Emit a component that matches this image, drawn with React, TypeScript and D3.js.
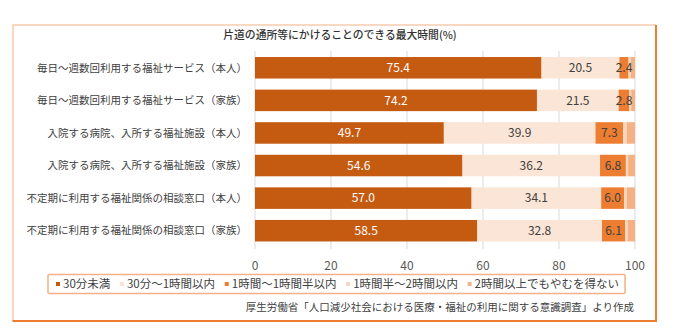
import React, { useEffect, useRef } from "react";
import * as d3 from "d3";

const categories = [
  "毎日～週数回利用する福祉サービス（本人）",
  "毎日～週数回利用する福祉サービス（家族）",
  "入院する病院、入所する福祉施設（本人）",
  "入院する病院、入所する福祉施設（家族）",
  "不定期に利用する福祉関係の相談窓口（本人）",
  "不定期に利用する福祉関係の相談窓口（家族）",
];
const seriesNames = [
  "30分未満",
  "30分～1時間以内",
  "1時間～1時間半以内",
  "1時間半～2時間以内",
  "2時間以上でもやむを得ない",
];
const s1 = [75.4, 74.2, 49.7, 54.6, 57.0, 58.5];
const s2 = [20.5, 21.5, 39.9, 36.2, 34.1, 32.8];
const s3 = [2.4, 2.8, 7.3, 6.8, 6.0, 6.1];
const s4 = [0.6, 0.5, 0.9, 0.6, 0.8, 0.7];
const s5 = [1.1, 1.0, 2.2, 1.8, 2.1, 1.9];
const xTicks = [0, 20, 40, 60, 80, 100];
const title = "片道の通所等にかけることのできる最大時間(%)";
const source = "厚生労働省「人口減少社会における医療・福祉の利用に関する意識調査」より作成";

const colors = ["#c55a11", "#fbe5d6", "#ed7d31", "#f8d5bd", "#f4b183"];
const labelColors = ["#ffffff", "#404040", "#404040"];
const FONT = "'Noto Sans CJK JP', 'Noto Sans', sans-serif";

export default function App() {
  const ref = useRef<SVGSVGElement>(null);
  useEffect(() => {
    const svg = d3.select(ref.current);
    svg.selectAll("*").remove();
    const W = 676, H = 333;
    const series = [s1, s2, s3, s4, s5];
    const x = d3.scaleLinear().domain([0, 100]).range([255, 635]);
    const y = d3.scaleBand().domain(categories).range([51.5, 247]).paddingInner(0.34).paddingOuter(0.17);

    svg.append("rect").attr("width", W).attr("height", H).attr("fill", "#fff");

    // frame
    svg.append("path").attr("d", "M13,321 L13,25 L656,25").attr("fill", "none").attr("stroke", "#f8cbad").attr("stroke-width", 1.5);
    svg.append("path").attr("d", "M12.5,321 L656,321 L656,25").attr("fill", "none").attr("stroke", "#ed7d31").attr("stroke-width", 2);

    // title
    svg.append("text").attr("x", 340).attr("y", 35).attr("dy", "0.36em").attr("text-anchor", "middle")
      .attr("font-family", FONT).attr("font-size", 10.8).attr("font-weight", 500).attr("fill", "#333").text(title);

    // grid
    svg.append("g").selectAll("line").data(xTicks).join("line")
      .attr("x1", (d) => x(d)).attr("x2", (d) => x(d)).attr("y1", 51).attr("y2", 249)
      .attr("stroke", "#e6e6e6").attr("stroke-width", 1.5);

    // stacked bars
    const stacked = categories.map((c, i) => {
      let acc = 0;
      return series.map((s, k) => {
        const v0 = acc;
        acc += s[i];
        return { c, k, v: s[i], v0, v1: acc };
      });
    });
    const g = svg.append("g");
    stacked.forEach((row) => {
      row.forEach((seg) => {
        g.append("rect").attr("x", x(seg.v0)).attr("y", y(seg.c)!)
          .attr("width", x(seg.v1) - x(seg.v0)).attr("height", y.bandwidth())
          .attr("fill", colors[seg.k]);
      });
      row.filter((s) => s.k < 3).forEach((seg) => {
        g.append("text").attr("x", (x(seg.v0) + x(seg.v1)) / 2).attr("y", y(seg.c)! + y.bandwidth() / 2)
          .attr("dy", "0.36em").attr("text-anchor", "middle").attr("font-family", FONT).attr("font-size", 12)
          .attr("fill", labelColors[seg.k]).text(seg.v.toFixed(1));
      });
    });

    // y labels
    svg.append("g").selectAll("text").data(categories).join("text")
      .attr("x", 247).attr("y", (d) => y(d)! + y.bandwidth() / 2).attr("dy", "0.36em")
      .attr("text-anchor", "end").attr("font-family", FONT).attr("font-size", 10.5).attr("fill", "#404040").text((d) => d);

    // x tick labels
    svg.append("g").selectAll("text").data(xTicks).join("text")
      .attr("x", (d) => x(d)).attr("y", 266).attr("dy", "0.36em").attr("text-anchor", "middle")
      .attr("font-family", FONT).attr("font-size", 12).attr("fill", "#595959").text((d) => String(d));

    // legend
    const lg = svg.append("g");
    lg.append("rect").attr("x", 48).attr("y", 274.5).attr("width", 577).attr("height", 19)
      .attr("fill", "#fff").attr("stroke", "#f4b183").attr("stroke-width", 1.5).attr("rx", 1);
    const texts = seriesNames.map((name) =>
      lg.append("text").attr("y", 284).attr("dy", "0.36em")
        .attr("font-family", FONT).attr("font-size", 11.5).attr("fill", "#404040").text(name)
    );
    const widths = texts.map((t) => (t.node() as SVGTextElement).getComputedTextLength());
    const startX = 56, endX = 619, mGap = 7;
    const gap = (endX - startX - d3.sum(widths) - mGap * seriesNames.length) / (seriesNames.length - 1);
    let cx = startX;
    texts.forEach((t, k) => {
      lg.append("rect").attr("x", cx).attr("y", 282).attr("width", 4).attr("height", 4).attr("fill", colors[k]);
      t.attr("x", cx + mGap);
      cx = cx + mGap + widths[k] + gap;
    });

    // source
    svg.append("text").attr("x", 634).attr("y", 307).attr("dy", "0.36em").attr("text-anchor", "end")
      .attr("font-family", FONT).attr("font-size", 10.5).attr("fill", "#404040").text(source);
  }, []);
  return (
    <svg ref={ref} width={676} height={333}
      style={{ position: "absolute", left: 0, top: 0, display: "block" }} />
  );
}
